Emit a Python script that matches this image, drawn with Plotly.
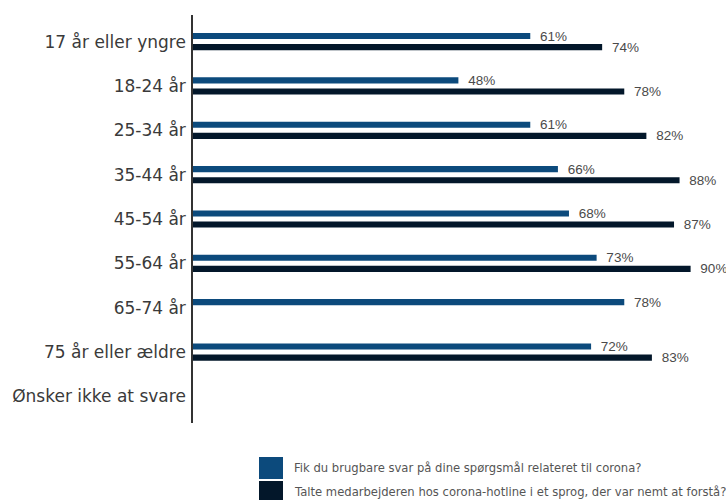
import plotly.graph_objects as go

# Age groups, top to bottom
categories = [
    "17 år eller yngre", "18-24 år", "25-34 år", "35-44 år", "45-54 år",
    "55-64 år", "65-74 år", "75 år eller ældre", "Ønsker ikke at svare",
]
series_names = [
    "Fik du brugbare svar på dine spørgsmål relateret til corona?",
    "Talte medarbejderen hos corona-hotline i et sprog, der var nemt at forstå?",
]
useful_answers = [61, 48, 61, 66, 68, 73, 78, 72, None]
easy_language = [74, 78, 82, 88, 87, 90, None, 83, None]

colors = ["#0c4a7c", "#03172a"]
label_font = dict(family="Liberation Sans, Arial, sans-serif", size=13.5, color="#4a4a4a")

fig = go.Figure()
for name, values, color in zip(series_names, [useful_answers, easy_language], colors):
    fig.add_trace(go.Bar(
        y=categories, x=values, orientation="h", name=name,
        marker=dict(color=color, line=dict(width=0)),
        text=[f"\u2002{v}%" if v is not None else "" for v in values],
        textposition="outside", textfont=label_font, constraintext="none",
        cliponaxis=False, showlegend=False,
    ))

# Legend: large square swatches with text to the right
legend_x0, legend_x1 = 259, 283
legend_rows = [(457, 479), (481, 503)]
for (y0, y1), color, name in zip(legend_rows, colors, series_names):
    fig.add_shape(type="rect", xref="paper", yref="paper",
                  x0=(legend_x0 - 193) / 533, x1=(legend_x1 - 193) / 533,
                  y0=-(y0 - 423) / 408, y1=-(y1 - 423) / 408,
                  fillcolor=color, line=dict(width=0), layer="above")
    fig.add_annotation(xref="paper", yref="paper",
                       x=(292 - 193) / 533, y=-((y0 + y1) / 2 - 423) / 408,
                       text=name, showarrow=False, xanchor="left", yanchor="middle",
                       font=dict(family="DejaVu Sans, sans-serif", size=11.6, color="#555"))

fig.update_layout(
    width=726, height=500,
    margin=dict(l=193, r=0, t=15, b=77),
    paper_bgcolor="white", plot_bgcolor="white",
    barmode="group", bargap=0.5, bargroupgap=0.45,
    xaxis=dict(range=[0, 96.4], showgrid=False, zeroline=False,
               showticklabels=False, showline=False, fixedrange=True),
    yaxis=dict(categoryorder="array", categoryarray=categories,
               range=[8.6, -0.6], showgrid=False, zeroline=False,
               showline=True, linecolor="#333", linewidth=1.5,
               ticks="", ticklabelstandoff=2,
               tickfont=dict(family="DejaVu Sans, sans-serif", size=17, color="#3a3a3a")),
)

fig.write_html("out.html")
